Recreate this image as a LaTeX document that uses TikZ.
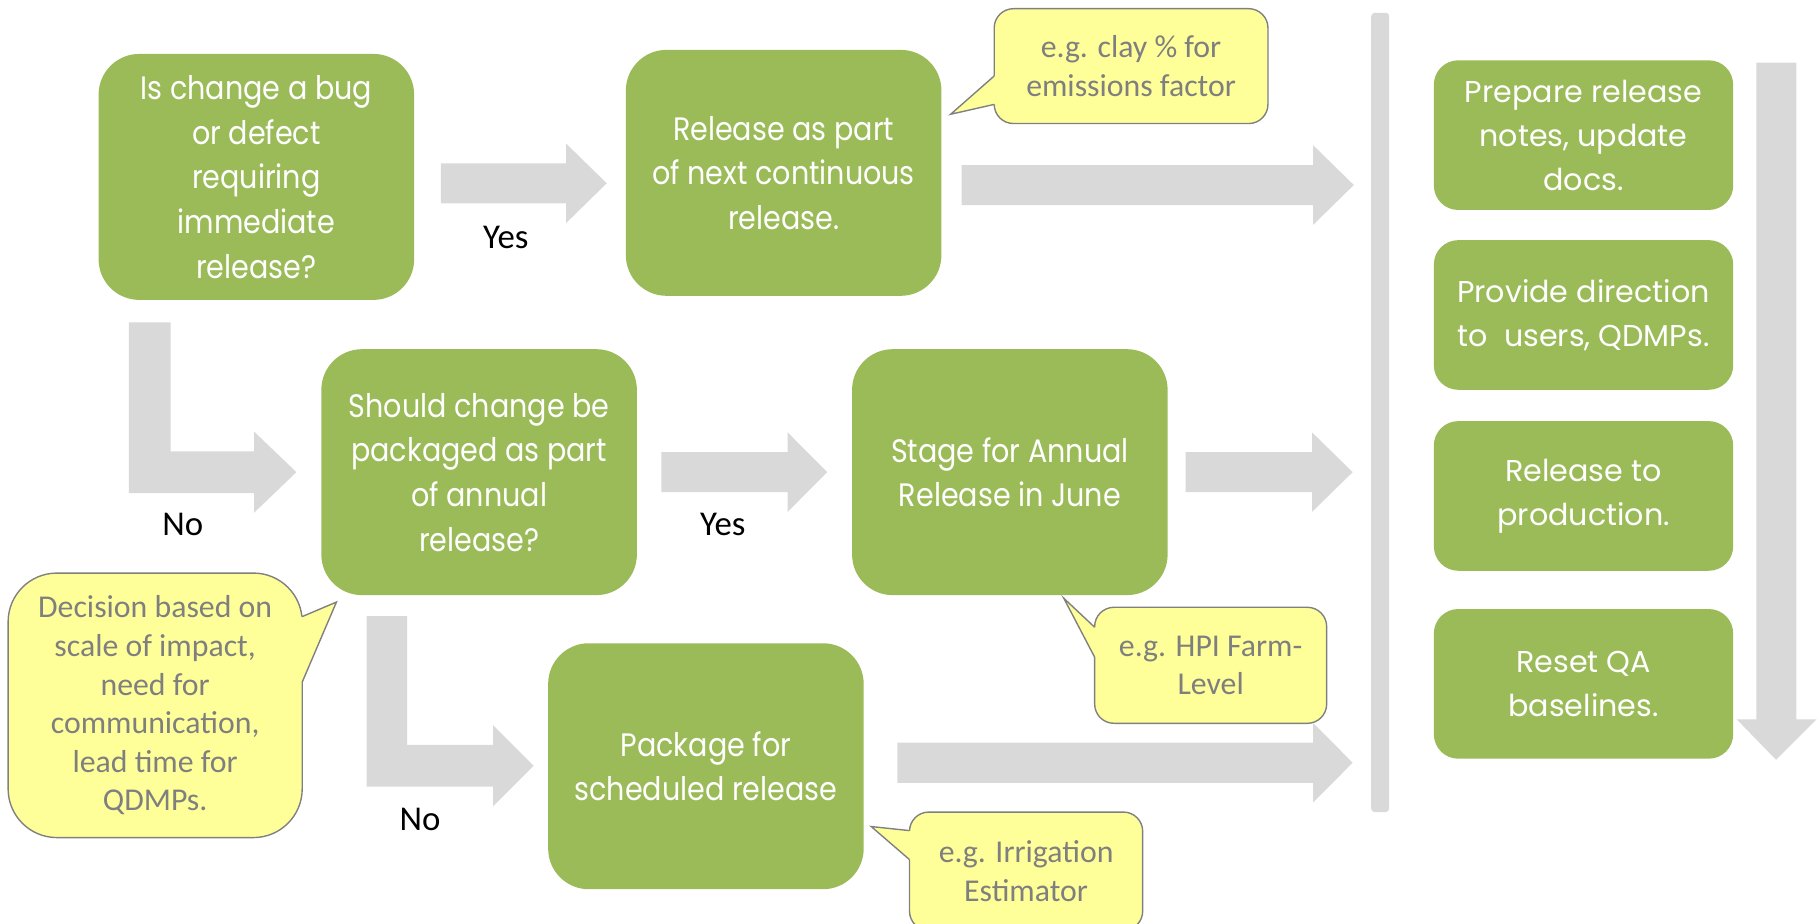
\documentclass[tikz,border=0pt]{standalone}
\usepackage{fontspec}
\newfontfamily\twfont{Poppins}[FakeStretch=0.88]
\newfontfamily\cgfont{Poppins}
\newfontfamily\calfont{Carlito}
\definecolor{boxgreen}{HTML}{9BBB59}
\definecolor{arrowgray}{HTML}{D9D9D9}
\definecolor{noteyellow}{HTML}{FFFF99}
\definecolor{noteline}{HTML}{808080}
\definecolor{notetext}{HTML}{7F7F7F}
\tikzset{
  stepbox/.style={fill=boxgreen, text=white, rounded corners=17.5pt,
    minimum width=136pt, minimum height=106pt, inner sep=0pt, align=center,
    font=\twfont\fontsize{14}{19.25}\selectfont},
  taskbox/.style={fill=boxgreen, text=white, rounded corners=10.5pt,
    minimum width=129pt, minimum height=64.5pt, inner sep=0pt, align=center,
    font=\cgfont\fontsize{13}{19}\selectfont},
  note/.style={fill=noteyellow, draw=noteline, line width=0.6pt, text=notetext,
    inner sep=0pt, align=center, font=\calfont\fontsize{13.7}{16.6}\selectfont},
  notetip/.style={fill=noteyellow},
  noteedge/.style={draw=noteline, line width=0.6pt, line join=miter},
  answer/.style={font=\calfont\fontsize{15}{18}\selectfont, text=black, inner sep=0pt},
  blockarrow/.style={fill=arrowgray},
}
% right-pointing block arrow: start x, head base x, tip x, centre y
\newcommand\rblock[4]{%
  \fill[blockarrow] (#1,#4-17.25) -- (#2,#4-17.25) -- (#2,#4-34.25) -- (#3,#4)
    -- (#2,#4+34.25) -- (#2,#4+17.25) -- (#1,#4+17.25) -- cycle;}
\begin{document}
\begin{tikzpicture}[x=0.5pt,y=-0.5pt]
\useasboundingbox (0,0) rectangle (1568,796);

% ---- block arrows ----
\rblock{380}{488}{523}{158}
\rblock{829}{1132}{1167}{159.5}
\rblock{570}{679}{713}{407}
\rblock{1022}{1131}{1166}{407}
\rblock{773.5}{1132}{1166}{657.5}
% elbow arrows for the "No" branches
\fill[blockarrow] (111,278) -- (147,278) -- (147,389) -- (219,389) -- (219,372)
  -- (255.5,407) -- (219,442) -- (219,425) -- (111,425) -- cycle;
\fill[blockarrow] (316,531) -- (351,531) -- (351,642) -- (425,642) -- (425,625)
  -- (460,660) -- (425,695) -- (425,678) -- (316,678) -- cycle;
% collecting bar and downward arrow
\fill[arrowgray, rounded corners=1.5pt] (1182,11) rectangle (1197.5,700);
\fill[blockarrow] (1514,54) -- (1548.5,54) -- (1548.5,620) -- (1566,620)
  -- (1531,655) -- (1497,620) -- (1514,620) -- cycle;

% ---- decision and action boxes ----
\node[stepbox] (bug) at (221,152.5) {Is change a bug\\or defect\\requiring\\immediate\\release?};
\node[stepbox] (cont) at (675.5,149) {Release as part\\of next continuous\\release.};
\node[stepbox] (annualq) at (413,407) {Should change be\\packaged as part\\of annual\\release?};
\node[stepbox] (stage) at (870.5,407) {Stage for Annual\\Release in June};
\node[stepbox] (sched) at (608.5,660.5) {Package for\\scheduled release};

% ---- release tasks ----
\node[taskbox] (notes) at (1365,116.5) {Prepare release\\notes, update\\docs.};
\node[taskbox] (direct) at (1365,271.5) {Provide direction\\to\ \ users, QDMPs.};
\node[taskbox] (prod) at (1365,427.5) {Release to\\production.};
\node[taskbox] (qa) at (1365,589.5) {Reset QA\\baselines.};

% ---- answers ----
\node[answer] (yes1) at (436,205) {Yes};
\node[answer] (no1) at (157.5,452.5) {No};
\node[answer] (yes2) at (623,452.5) {Yes};
\node[answer] (no2) at (362,706) {No};

% ---- callout notes ----
\node[note, rounded corners=8.3pt, minimum width=118pt, minimum height=49.5pt]
  (clay) at (975,57) {e.g. clay \% for\\emissions factor};
\fill[notetip] (857,65.5) -- (819.5,98.5) -- (857,90) -- (861,90) -- (861,65.5) -- cycle;
\draw[noteedge] (857,65.5) -- (819.5,98.5) -- (857,90);

\node[note, rounded corners=8.3pt, minimum width=100pt, minimum height=50pt]
  (hpi) at (1043.6,573.5) {e.g. HPI Farm-\\Level};
\fill[notetip] (943.6,540.7) -- (917,515.7) -- (943.6,566.5) -- (947.6,566.5) -- (947.6,540.7) -- cycle;
\draw[noteedge] (943.6,540.7) -- (917,515.7) -- (943.6,566.5);

\node[note, rounded corners=21pt, minimum width=126.75pt, minimum height=114pt]
  (decide) at (133.75,608) {Decision based on\\scale of impact,\\need for\\communication,\\lead time for\\QDMPs.};
\fill[notetip] (260.5,531.5) -- (290,519) -- (260.5,588) -- (256.5,588) -- (256.5,531.5) -- cycle;
\draw[noteedge] (260.5,531.5) -- (290,519) -- (260.5,588);

\node[note, rounded corners=8.3pt, minimum width=100.5pt, minimum height=51pt]
  (irrig) at (884.5,751) {e.g. Irrigation\\Estimator};
\fill[notetip] (784,716) -- (751,712.5) -- (784,741) -- (788,741) -- (788,716) -- cycle;
\draw[noteedge] (784,716) -- (751,712.5) -- (784,741);
\end{tikzpicture}
\end{document}
